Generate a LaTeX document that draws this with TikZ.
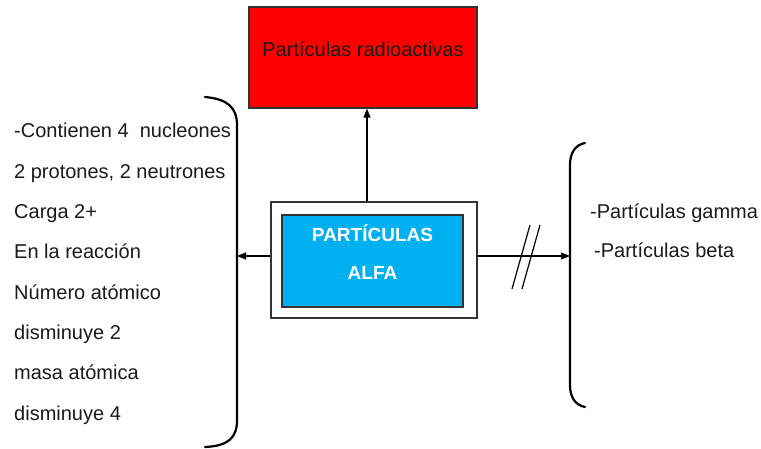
\documentclass[tikz,border=0pt]{standalone}
\usepackage{fontspec}
\setmainfont{Liberation Sans}
\usetikzlibrary{arrows.meta}
\definecolor{boxred}{HTML}{FF0000}
\definecolor{boxblue}{HTML}{00B0F0}
\definecolor{txt}{HTML}{1A1A1A}
\tikzset{
  txtline/.style={anchor=base west, inner sep=0pt, font=\fontsize{20}{24}\selectfont, text=txt},
  conn/.style={line width=1.2pt, -{Triangle[length=9pt,width=7pt]}},
  brace/.style={line width=2.2pt, line cap=round},
}
\begin{document}
\begin{tikzpicture}[x=1pt,y=-1pt]
\useasboundingbox (0,0) rectangle (761,449);
% red box
\node[draw=black!80, line width=1.2pt, fill=boxred, minimum width=228pt, minimum height=101pt, inner sep=0pt] (red) at (363,57.5) {};
\node[anchor=base, inner sep=0pt, font=\fontsize{20}{24}\selectfont, text=txt] (redt) at (363,57) {Partículas radioactivas};
% outer box
\node[draw=black!80, line width=1.2pt, fill=white, minimum width=206pt, minimum height=116pt, inner sep=0pt] (outer) at (374,260) {};
\node[draw=black!80, line width=1.2pt, fill=boxblue, minimum width=181pt, minimum height=92pt, inner sep=0pt] (inner) at (372.5,261) {};
\node[anchor=base, inner sep=0pt, font=\fontsize{19}{22}\selectfont\bfseries, text=white] (a1) at (372.5,242) {PARTÍCULAS};
\node[anchor=base, inner sep=0pt, font=\fontsize{19}{22}\selectfont\bfseries, text=white] (a2) at (372.5,280) {ALFA};
% left brace
\coordinate (lb1) at (205,97);
\coordinate (lb2) at (237,125);
\coordinate (lb3) at (237,420);
\coordinate (lb4) at (205,447);
\coordinate (lbm) at (237,256);
\draw[brace] (lb1) .. controls (228,99) and (237,108) .. (lb2) -- (lb3) .. controls (237,438) and (228,446) .. (lb4);
% right brace
\coordinate (rb1) at (585,143);
\coordinate (rb2) at (570,165);
\coordinate (rb3) at (570,385);
\coordinate (rb4) at (585,407);
\coordinate (rbm) at (570,256);
\draw[brace] (rb1) .. controls (575,145) and (570,153) .. (rb2) -- (rb3) .. controls (570,397) and (575,405) .. (rb4);
% connectors
\draw[conn] (outer.north -| 367,0) -- (red.south -| 367,0);
\draw[conn] (outer.west |- lbm) -- (lbm);
\draw[conn] (outer.east |- rbm) -- (rbm);
\coordinate (h1a) at (512,289); \coordinate (h1b) at (530,225);
\coordinate (h2a) at (522,289); \coordinate (h2b) at (540,225);
\draw[line width=1.2pt] (h1a) -- (h1b);
\draw[line width=1.2pt] (h2a) -- (h2b);
% left text
\node[txtline] (l1) at (14,138) {-Contienen 4\ \ nucleones};
\node[txtline] (l2) at (14,178.3) {2 protones, 2 neutrones};
\node[txtline] (l3) at (14,218.6) {Carga 2+};
\node[txtline] (l4) at (14,258.9) {En la reacción};
\node[txtline] (l5) at (14,299.2) {Número atómico};
\node[txtline] (l6) at (14,339.5) {disminuye 2};
\node[txtline] (l7) at (14,379.8) {masa atómica};
\node[txtline] (l8) at (14,420) {disminuye 4};
% right text
\node[txtline] (r1) at (590,219) {-Partículas gamma};
\node[txtline] (r2) at (594,258) {-Partículas beta};
\end{tikzpicture}
\end{document}
